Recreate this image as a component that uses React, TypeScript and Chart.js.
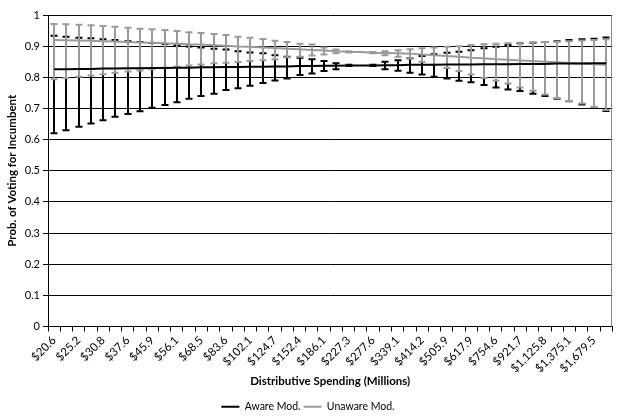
import React, { useEffect, useRef } from "react";
import { Chart, registerables } from "chart.js";

Chart.register(...registerables);

const categories = [
  "$20.6", "$22.8", "$25.2", "$27.9", "$30.8", "$34.0", "$37.6", "$41.5", "$45.9", "$50.7",
  "$56.1", "$62.0", "$68.5", "$75.7", "$83.6", "$92.4", "$102.1", "$112.8", "$124.7", "$137.9",
  "$152.4", "$168.4", "$186.1", "$205.7", "$227.3", "$251.2", "$277.6", "$306.8", "$339.1", "$374.8",
  "$414.2", "$457.8", "$505.9", "$559.1", "$617.9", "$682.8", "$754.6", "$834.0", "$921.7", "$1,018.7",
  "$1,125.8", "$1,244.2", "$1,375.1", "$1,519.7", "$1,679.5", "$1,856.2",
];

const yTickLabels = ["0", "0.1", "0.2", "0.3", "0.4", "0.5", "0.6", "0.7", "0.8", "0.9", "1"];

const awareMean = [
  0.826, 0.826, 0.827, 0.827, 0.828, 0.828, 0.829, 0.829, 0.830, 0.830,
  0.831, 0.831, 0.832, 0.832, 0.833, 0.833, 0.834, 0.834, 0.835, 0.835,
  0.836, 0.836, 0.837, 0.837, 0.838, 0.838, 0.838, 0.839, 0.839, 0.840,
  0.840, 0.840, 0.841, 0.841, 0.841, 0.842, 0.842, 0.842, 0.843, 0.843,
  0.843, 0.844, 0.844, 0.844, 0.845, 0.845,
];
const awareUpper = [
  0.933, 0.930, 0.927, 0.925, 0.922, 0.920, 0.916, 0.913, 0.910, 0.907,
  0.903, 0.899, 0.896, 0.892, 0.889, 0.884, 0.880, 0.877, 0.871, 0.866,
  0.863, 0.858, 0.852, 0.845, 0.840, null, 0.840, 0.850, 0.855, 0.861,
  0.868, 0.874, 0.879, 0.882, 0.887, 0.893, 0.898, 0.904, 0.909, 0.911,
  0.913, 0.916, 0.920, 0.922, 0.924, 0.928,
];
const awareLower = [
  0.620, 0.630, 0.641, 0.652, 0.662, 0.673, 0.682, 0.691, 0.702, 0.711,
  0.720, 0.731, 0.740, 0.747, 0.759, 0.765, 0.773, 0.782, 0.790, 0.796,
  0.807, 0.812, 0.820, 0.826, 0.836, null, 0.836, 0.826, 0.821, 0.815,
  0.809, 0.802, 0.796, 0.789, 0.784, 0.775, 0.767, 0.761, 0.756, 0.747,
  0.740, 0.731, 0.723, 0.713, 0.702, 0.692,
];

const unawareMean = [
  0.920, 0.919, 0.918, 0.917, 0.916, 0.915, 0.913, 0.912, 0.911, 0.909,
  0.908, 0.906, 0.905, 0.903, 0.901, 0.899, 0.898, 0.896, 0.894, 0.892,
  0.890, 0.888, 0.886, 0.884, 0.882, 0.881, 0.879, 0.878, 0.877, 0.876,
  0.873, 0.871, 0.868, 0.866, 0.863, 0.861, 0.858, 0.856, 0.854, 0.852,
  0.850, 0.848, 0.846, 0.844, 0.842, 0.840,
];
const unawareUpper = [
  0.971, 0.970, 0.969, 0.967, 0.965, 0.962, 0.959, 0.956, 0.954, 0.952,
  0.949, 0.945, 0.942, 0.939, 0.936, 0.930, 0.927, 0.923, 0.917, 0.913,
  0.908, 0.905, 0.896, 0.889, 0.884, null, 0.881, 0.884, 0.887, 0.890,
  0.893, 0.896, 0.898, 0.900, 0.904, 0.906, 0.908, 0.909, 0.911, 0.912,
  0.913, 0.914, 0.916, 0.918, 0.920, 0.922,
];
const unawareLower = [
  0.794, 0.798, 0.802, 0.806, 0.810, 0.815, 0.819, 0.822, 0.826, 0.831,
  0.834, 0.838, 0.841, 0.845, 0.847, 0.849, 0.852, 0.855, 0.858, 0.864,
  0.866, 0.870, 0.873, 0.877, 0.880, null, 0.877, 0.871, 0.866, 0.860,
  0.850, 0.840, 0.830, 0.820, 0.809, 0.798, 0.789, 0.780, 0.767, 0.757,
  0.745, 0.733, 0.724, 0.716, 0.705, 0.695,
];

const BLACK = "#000000";
const GRAY = "#9a9a9a";

const errorBarPlugin = {
  id: "errorBars",
  beforeDatasetsDraw(chart: any) {
    const { ctx } = chart;
    const x = chart.scales.x;
    const y = chart.scales.y;
    ctx.save();
    chart.data.datasets.forEach((ds: any) => {
      const up = ds.errorUpper as (number | null)[];
      const lo = ds.errorLower as (number | null)[];
      if (!up || !lo) return;
      ctx.strokeStyle = ds.borderColor;
      ctx.lineWidth = 2;
      ctx.lineCap = "butt";
      up.forEach((u, i) => {
        const l = lo[i];
        if (u == null || l == null) return;
        const px = Math.round(x.getPixelForValue(i));
        const yu = y.getPixelForValue(u);
        const yl = y.getPixelForValue(l);
        ctx.beginPath();
        ctx.moveTo(px, yu);
        ctx.lineTo(px, yl);
        ctx.moveTo(px - 3.5, yu);
        ctx.lineTo(px + 3.5, yu);
        ctx.moveTo(px - 3.5, yl);
        ctx.lineTo(px + 3.5, yl);
        ctx.stroke();
      });
    });
    ctx.restore();
  },
  afterDraw(chart: any) {
    const { ctx, chartArea } = chart;
    ctx.save();
    ctx.strokeStyle = "#888888";
    ctx.lineWidth = 1;
    ctx.beginPath();
    ctx.moveTo(Math.round(chartArea.right) - 0.5, chartArea.top);
    ctx.lineTo(Math.round(chartArea.right) - 0.5, chartArea.bottom);
    ctx.stroke();
    ctx.restore();
  },
};

export default function App() {
  const ref = useRef<HTMLCanvasElement>(null);
  useEffect(() => {
    if (!ref.current) return;
    Chart.defaults.font.family = "Lato, 'DejaVu Sans', sans-serif";
    Chart.defaults.color = "#000";
    const chart = new Chart(ref.current, {
      type: "line",
      data: {
        labels: categories,
        datasets: [
          {
            label: "Aware Mod.",
            data: awareMean,
            borderColor: BLACK,
            backgroundColor: BLACK,
            borderWidth: 2,
            pointRadius: 0,
            tension: 0,
            errorUpper: awareUpper,
            errorLower: awareLower,
          } as any,
          {
            label: "Unaware Mod.",
            data: unawareMean,
            borderColor: GRAY,
            backgroundColor: GRAY,
            borderWidth: 2,
            pointRadius: 0,
            tension: 0,
            errorUpper: unawareUpper,
            errorLower: unawareLower,
          } as any,
        ],
      },
      options: {
        responsive: false,
        animation: false,
        layout: { padding: { left: 0, right: 2, top: 15, bottom: -4 } },
        plugins: {
          tooltip: { enabled: false },
          legend: {
            display: true,
            position: "bottom",
            labels: {
              usePointStyle: true,
              pointStyle: "line",
              pointStyleWidth: 18,
              boxHeight: 11,
              padding: 3,
              color: "#000",
              font: { size: 10.5 },
            },
          },
        },
        scales: {
          x: {
            type: "category",
            offset: true,
            grid: {
              display: true,
              drawOnChartArea: false,
              drawTicks: true,
              tickLength: 5,
              offset: true,
              color: "#000",
            },
            border: { display: true, color: "#000", width: 1 },
            ticks: {
              autoSkip: false,
              maxRotation: 45,
              minRotation: 45,
              padding: 2,
              font: { size: 11.5 },
              color: "#000",
              callback: (_v: any, i: number) => (i % 2 === 0 ? categories[i] : ""),
            },
            title: {
              display: true,
              text: "Distributive Spending (Millions)",
              font: { size: 11.5, weight: "bold" },
              color: "#000",
              padding: { top: 4, bottom: 10 },
            },
            afterFit: (s: any) => {
              s.height = 72;
            },
          },
          y: {
            min: 0,
            max: 1,
            grid: {
              color: "#000",
              lineWidth: 1,
              drawTicks: true,
              tickLength: 5,
            },
            border: { display: true, color: "#000", width: 1 },
            ticks: {
              stepSize: 0.1,
              padding: 3,
              font: { size: 11 },
              color: "#000",
              callback: (_v: any, i: number) => yTickLabels[i],
            },
            title: {
              display: true,
              text: "Prob. of Voting for Incumbent",
              font: { size: 11.5, weight: "bold" },
              color: "#000",
              padding: { top: 5, bottom: 0 },
            },
            afterFit: (s: any) => {
              s.width = 48;
            },
          },
        },
      } as any,
      plugins: [errorBarPlugin],
    });
    return () => chart.destroy();
  }, []);
  return (
    <div style={{ position: "fixed", left: 0, top: 0, width: 618, height: 418, background: "#fff" }}>
      <canvas ref={ref} width={618} height={418} style={{ display: "block" }} />
    </div>
  );
}
